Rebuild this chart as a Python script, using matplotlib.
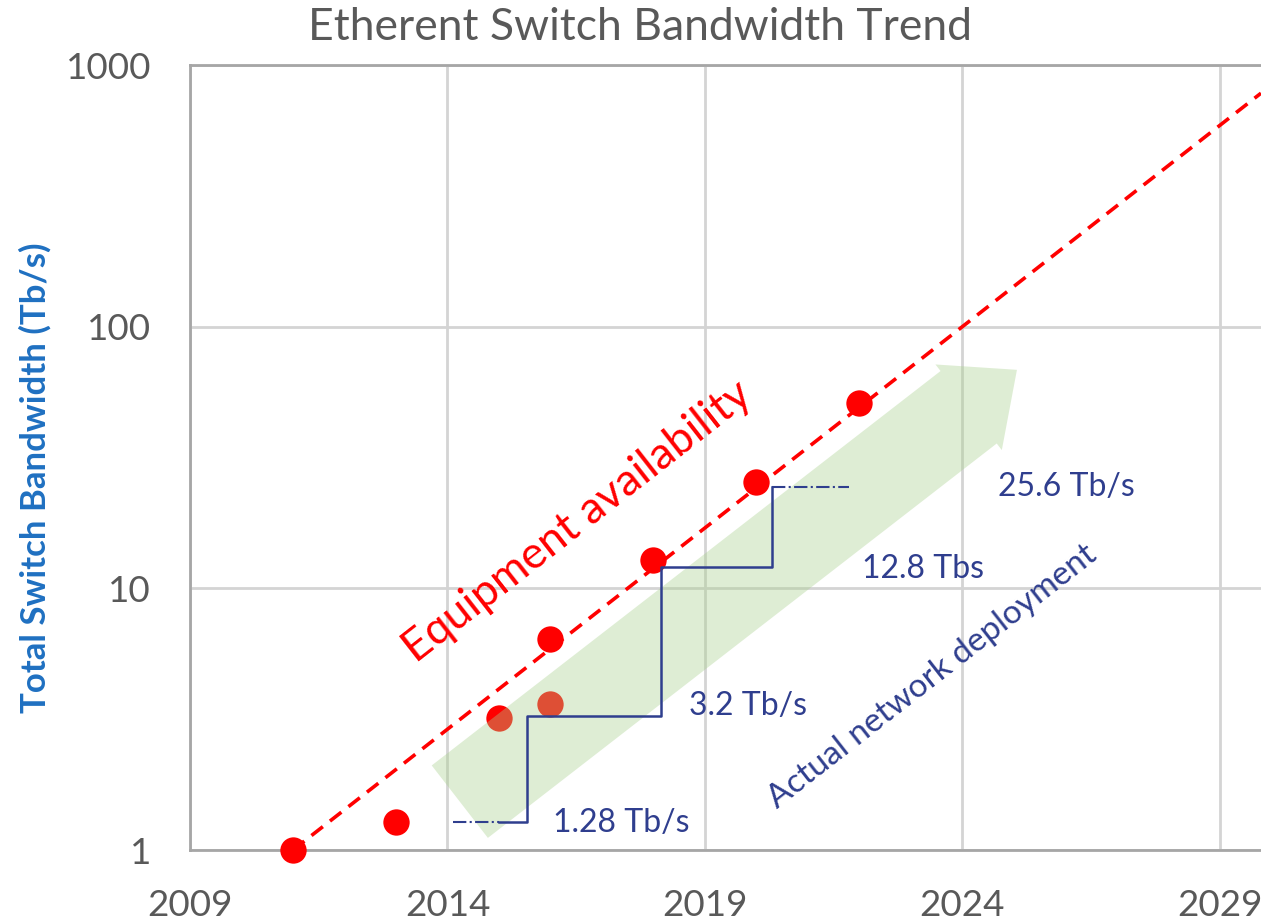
import numpy as np
import matplotlib.pyplot as plt
from matplotlib.patches import FancyArrowPatch

plt.rcParams['font.family'] = ['Lato', 'DejaVu Sans']

# equipment availability (red points)
years = [2011, 2013, 2016, 2018, 2020, 2022]
bw = [1, 1.28, 6.4, 12.8, 25.6, 51.2]
# faded points under the green arrow
years_f = [2015, 2016]
bw_f = [3.2, 3.6]

# trend line: x100 in 13 years
trend_x = [2011, 2029.8]
trend_y = [1, 10 ** (18.8 * 2 / 13)]

# deployed network steps
step_x = [2015.0, 2015.55, 2015.55, 2018.15, 2018.15, 2020.3, 2020.3]
step_y = [1.28, 1.28, 3.25, 3.25, 12.1, 12.1, 24.5]
dd_x1 = [2014.1, 2015.0]
dd_y1 = [1.28, 1.28]
dd_x2 = [2020.3, 2021.8]
dd_y2 = [24.5, 24.5]

labels = ['1.28 Tb/s', '3.2 Tb/s', '12.8 Tbs', '25.6 Tb/s']
lab_x = [2016.05, 2018.7, 2022.05, 2024.7]
lab_y = [1.27, 3.55, 11.9, 24.4]

xticks = [2009, 2014, 2019, 2024, 2029]
yticks = [1, 10, 100, 1000]

navy = '#2F3E8E'
gris = '#595959'

fig = plt.figure(figsize=(12.61, 9.22), dpi=100)
ax = fig.add_axes([190 / 1261, 1 - 850 / 922, 1 - 190 / 1261, (850 - 65) / 922])

ax.set_yscale('log')
ax.set_xlim(2009, 2029.8)
ax.set_ylim(1, 1000)
ax.set_xticks(xticks)
ax.set_yticks(yticks)
ax.set_yticklabels(['1', '10', '100', '1000'])
ax.minorticks_off()
ax.tick_params(length=0, labelsize=26.5, labelcolor=gris, pad=28)
ax.grid(True, color='#D4D4D4', lw=2)
ax.set_axisbelow(True)
for s in ['left', 'bottom', 'top']:
    ax.spines[s].set_color('#A6A6A6')
    ax.spines[s].set_linewidth(2)
ax.spines['right'].set_visible(False)

ax.plot(trend_x, trend_y, color='#FF0000', lw=2.6, ls=(0, (4, 2.5)), zorder=3)
ax.scatter(years, bw, s=360, color='#FF0000', zorder=4, linewidths=0, clip_on=False)
ax.scatter(years_f, bw_f, s=360, color='#FF0000', zorder=2.5, linewidths=0)

# big green arrow
arr = FancyArrowPatch((2014.24, 1.53), (2025.06, 68.4),
                      arrowstyle='simple,head_length=44,head_width=78,tail_width=66',
                      mutation_scale=1, shrinkA=0, shrinkB=0,
                      color='#A9D18E', alpha=0.38, lw=0, zorder=3.5)
ax.add_patch(arr)

ax.plot(step_x, step_y, color=navy, lw=1.8, zorder=5)
ax.plot(dd_x1, dd_y1, color=navy, lw=1.5, ls='-.', zorder=5)
ax.plot(dd_x2, dd_y2, color=navy, lw=1.5, ls='-.', zorder=5)

for t, x, y in zip(labels, lab_x, lab_y):
    ax.text(x, y, t, color=navy, fontsize=23, va='center', ha='left')

ax.text(2016.53, 17.9, 'Equipment availability', color='#FF0000', fontsize=32,
        rotation=38, ha='center', va='center', rotation_mode='anchor')
ax.text(2023.41, 4.6, 'Actual network deployment', color=navy, fontsize=24,
        rotation=38, ha='center', va='center', rotation_mode='anchor')

fig.text(640 / 1261, 1 - 28 / 922, 'Etherent Switch Bandwidth Trend', color=gris,
         fontsize=32, ha='center', va='center')
fig.text(35 / 1261, 1 - 478 / 922, 'Total Switch Bandwidth (Tb/s)', color='#1F70C1',
         fontsize=25, fontweight='bold', rotation=90, ha='center', va='center')

plt.savefig('out.png', dpi=100)
